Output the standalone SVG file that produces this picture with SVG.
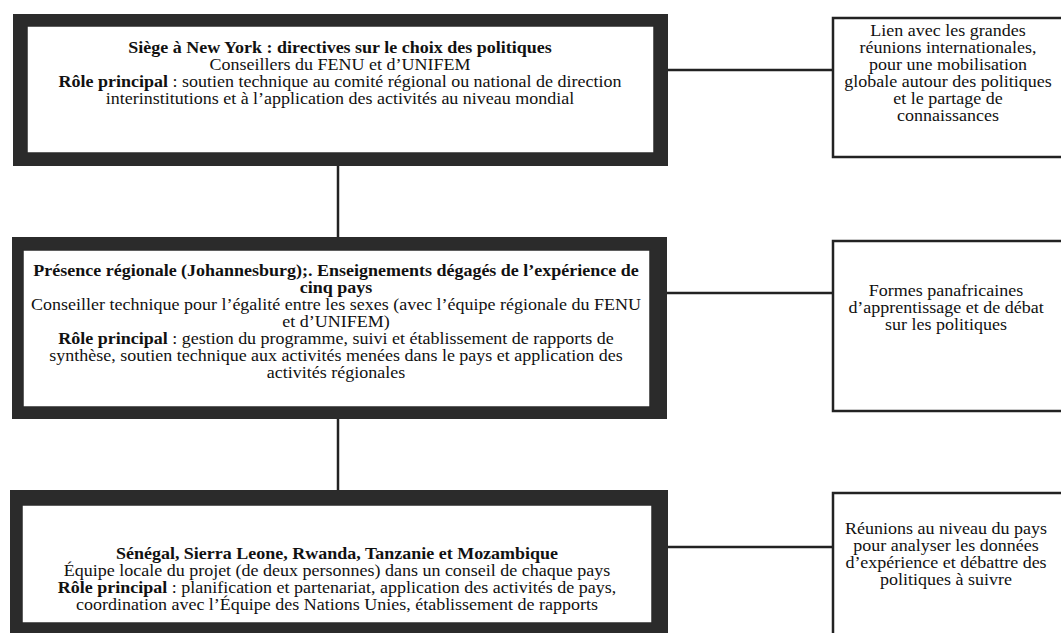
<svg xmlns="http://www.w3.org/2000/svg" width="1061" height="633" viewBox="0 0 1061 633">
<style>
.frame{fill:#2b2b2b}
.inner{fill:#fff;stroke:#2b2b2b;stroke-width:1.5}
.side{fill:#fff;stroke:#222;stroke-width:2.5}
.conn{stroke:#222;stroke-width:2.5;fill:none}
text{font-family:"Liberation Serif","Times New Roman",serif;font-size:16px;fill:#111;text-anchor:middle}
.b{font-weight:bold}
</style>
<rect width="1061" height="633" fill="#fff"/>
<g id="connectors">
<line class="conn" x1="668" y1="70" x2="833" y2="70"/>
<line class="conn" x1="667" y1="293" x2="833" y2="293"/>
<line class="conn" x1="668" y1="547" x2="833" y2="547"/>
<line class="conn" x1="338" y1="166" x2="338" y2="237"/>
<line class="conn" x1="338" y1="419" x2="338" y2="490"/>
</g>
<g id="hq">
<rect class="frame" x="13" y="14" width="655" height="152"/>
<rect class="inner" x="27" y="26" width="627" height="127"/>
<g transform="translate(340,0) scale(1.125,1)">
<text x="0" y="53" class="b">Siège à New York : directives sur le choix des politiques</text>
<text x="0" y="70">Conseillers du FENU et d’UNIFEM</text>
<text x="0" y="87"><tspan class="b">Rôle principal</tspan> : soutien technique au comité régional ou national de direction</text>
<text x="0" y="104">interinstitutions et à l’application des activités au niveau mondial</text>
</g>
</g>
<g id="regional">
<rect class="frame" x="12" y="237" width="655" height="182"/>
<rect class="inner" x="23" y="250" width="627" height="157"/>
<g transform="translate(336,0) scale(1.125,1)">
<text x="0" y="276" class="b">Présence régionale (Johannesburg);. Enseignements dégagés de l’expérience de</text>
<text x="0" y="293" class="b">cinq pays</text>
<text x="0" y="310">Conseiller technique pour l’égalité entre les sexes (avec l’équipe régionale du FENU</text>
<text x="0" y="327">et d’UNIFEM)</text>
<text x="0" y="344"><tspan class="b">Rôle principal</tspan> : gestion du programme, suivi et établissement de rapports de</text>
<text x="0" y="361">synthèse, soutien technique aux activités menées dans le pays et application des</text>
<text x="0" y="378">activités régionales</text>
</g>
</g>
<g id="country">
<rect class="frame" x="10" y="490" width="658" height="150"/>
<rect class="inner" x="22" y="505" width="630" height="118"/>
<g transform="translate(337,0) scale(1.125,1)">
<text x="0" y="559" class="b">Sénégal, Sierra Leone, Rwanda, Tanzanie et Mozambique</text>
<text x="0" y="576">Équipe locale du projet (de deux personnes) dans un conseil de chaque pays</text>
<text x="0" y="593"><tspan class="b">Rôle principal</tspan> : planification et partenariat, application des activités de pays,</text>
<text x="0" y="610">coordination avec l’Équipe des Nations Unies, établissement de rapports</text>
</g>
</g>
<g id="global-link">
<rect class="side" x="833" y="18" width="240" height="139"/>
<g transform="translate(948,0) scale(1.125,1)">
<text x="0" y="36">Lien avec les grandes</text>
<text x="0" y="53">réunions internationales,</text>
<text x="0" y="70">pour une mobilisation</text>
<text x="0" y="87">globale autour des politiques</text>
<text x="0" y="104">et le partage de</text>
<text x="0" y="121">connaissances</text>
</g>
</g>
<g id="panafrican">
<rect class="side" x="833" y="241" width="240" height="170"/>
<g transform="translate(946,0) scale(1.125,1)">
<text x="0" y="296">Formes panafricaines</text>
<text x="0" y="313">d’apprentissage et de débat</text>
<text x="0" y="330">sur les politiques</text>
</g>
</g>
<g id="country-meetings">
<rect class="side" x="833" y="493" width="240" height="150"/>
<g transform="translate(946,0) scale(1.125,1)">
<text x="0" y="534">Réunions au niveau du pays</text>
<text x="0" y="551">pour analyser les données</text>
<text x="0" y="568">d’expérience et débattre des</text>
<text x="0" y="585">politiques à suivre</text>
</g>
</g>
</svg>
